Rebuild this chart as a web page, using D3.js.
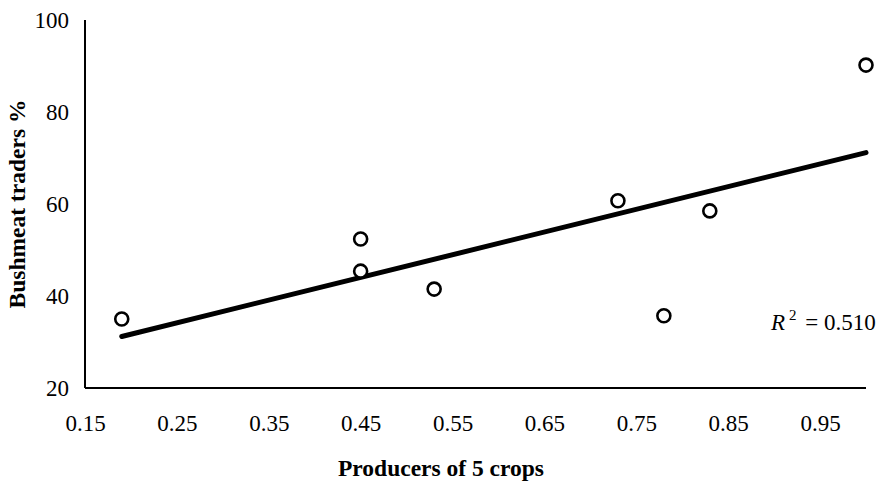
<!DOCTYPE html>
<html>
<head>
<meta charset="utf-8">
<script src="https://cdn.jsdelivr.net/npm/d3@7"></script>
<style>
  body { margin: 0; background: #fff; }
  svg text { font-family: "Liberation Serif", "Times New Roman", serif !important; fill: #000; }
  .tick-label { font-size: 23px !important; }
  .axis-title { font-size: 23.5px; font-weight: bold; }
</style>
</head>
<body>
<svg id="chart" width="885" height="482"></svg>
<script>
const producers = [0.19, 0.45, 0.45, 0.53, 0.73, 0.78, 0.83, 1.0];
const traders = [35.0, 52.4, 45.4, 41.5, 60.7, 35.7, 58.5, 90.2];
const xTicks = [0.15, 0.25, 0.35, 0.45, 0.55, 0.65, 0.75, 0.85, 0.95];
const yTicks = [20, 40, 60, 80, 100];
const r2Label = "0.510";

const svg = d3.select("#chart");
const x = d3.scaleLinear().domain([0.15, 1.0]).range([85, 866]);
const y = d3.scaleLinear().domain([20, 100]).range([388, 20]);

// least squares fit
const mx = d3.mean(producers);
const my = d3.mean(traders);
let sxy = 0, sxx = 0;
producers.forEach((v, i) => {
  sxy += (v - mx) * (traders[i] - my);
  sxx += (v - mx) * (v - mx);
});
const slope = sxy / sxx;
const intercept = my - slope * mx;
const xMin = d3.min(producers), xMax = d3.max(producers);

// axes (no tick marks)
const xAxis = svg.append("g").attr("transform", `translate(0,${y(20)})`)
  .call(d3.axisBottom(x).tickValues(xTicks).tickSize(0).tickPadding(0).tickFormat(d3.format(".2f")));
xAxis.select(".domain").attr("stroke", "#000").attr("stroke-width", 2).attr("d", `M${x(0.15)},0H${x(1.0)}`);
xAxis.selectAll("text").attr("class", "tick-label").attr("dy", null).attr("y", 43);

const yAxis = svg.append("g").attr("transform", `translate(${x(0.15)},0)`)
  .call(d3.axisLeft(y).tickValues(yTicks).tickSize(0).tickPadding(16));
yAxis.select(".domain").attr("stroke", "#000").attr("stroke-width", 2).attr("d", `M0,${y(100)}V${y(20)}`);
yAxis.selectAll("text").attr("class", "tick-label");
svg.selectAll("g").attr("font-family", null).attr("font-size", null);

// trend line
svg.append("line")
  .attr("x1", x(xMin)).attr("y1", y(intercept + slope * xMin))
  .attr("x2", x(xMax)).attr("y2", y(intercept + slope * xMax))
  .attr("stroke", "#000").attr("stroke-width", 5).attr("stroke-linecap", "round");

// points
svg.append("g").selectAll("circle")
  .data(producers.map((v, i) => [v, traders[i]]))
  .join("circle")
  .attr("cx", (d) => x(d[0]))
  .attr("cy", (d) => y(d[1]))
  .attr("r", 6.5)
  .attr("fill", "#fff")
  .attr("stroke", "#000")
  .attr("stroke-width", 2.6);

// R² label
const r2 = svg.append("text").attr("x", 771).attr("y", 330).style("font-size", "23px");
r2.append("tspan").style("font-style", "italic").text("R");
r2.append("tspan").attr("dx", 4).attr("dy", -10).style("font-size", "15px").text("2");
r2.append("tspan").attr("dx", 3).attr("dy", 10).text(` = ${r2Label}`);

// titles
svg.append("text").attr("class", "axis-title")
  .attr("x", 441).attr("y", 476).attr("text-anchor", "middle")
  .text("Producers of 5 crops");
svg.append("text").attr("class", "axis-title")
  .attr("transform", `translate(25,${(y(20) + y(100)) / 2}) rotate(-90)`)
  .attr("text-anchor", "middle")
  .text("Bushmeat traders %");
</script>
</body>
</html>
